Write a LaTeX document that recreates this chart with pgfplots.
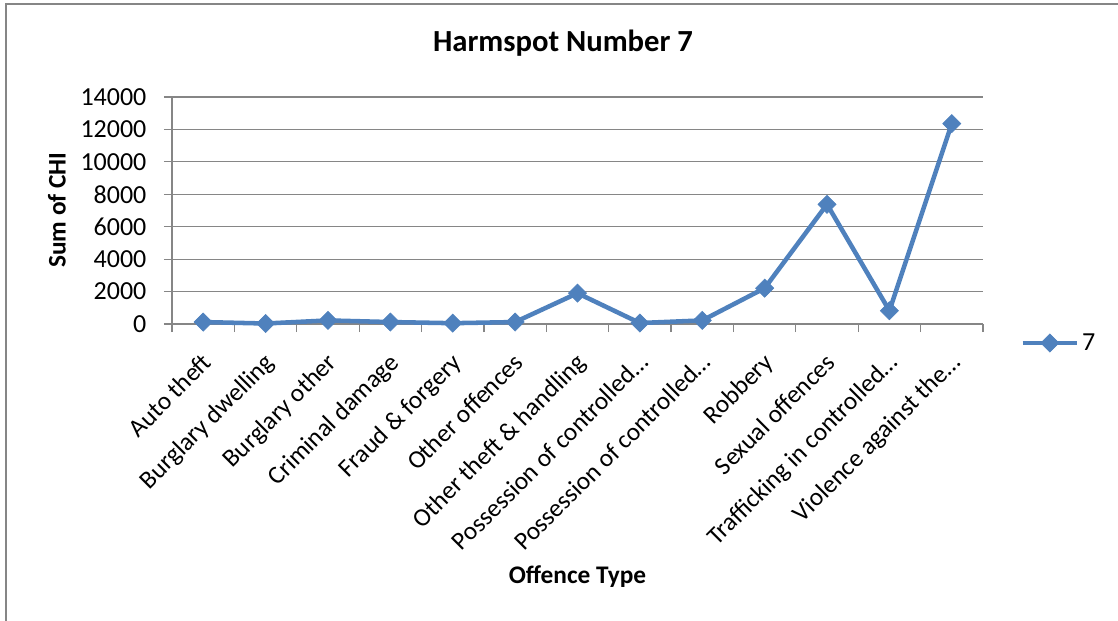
\documentclass[border=0pt]{standalone}
\usepackage{fontspec}
\setmainfont{Carlito}
\usepackage{pgfplots}
\pgfplotsset{compat=1.18}

\definecolor{xlblue}{RGB}{79,129,189}
\definecolor{xlgrid}{RGB}{134,134,134}

\begin{document}
\begin{tikzpicture}[x=1pt,y=1pt]
% page size and the chart area frame (left and top edges only)
\path[use as bounding box] (-129,-222.75) rectangle (709.5,243);
\draw[xlgrid, line width=0.9pt] (-124.5,-222.75) -- (-124.5,240) -- (709.5,240);

\begin{axis}[
  at={(0,0)}, anchor=south west,
  scale only axis,
  width=608.25pt, height=170.25pt,
  xmin=-0.5, xmax=12.5,
  ymin=0, ymax=14000,
  axis lines=left,
  axis line style={-, xlgrid, line width=0.9pt},
  ytick={0,2000,...,14000},
  ymajorgrids,
  grid style={xlgrid, line width=0.9pt},
  tick align=outside,
  major tick length=6pt,
  tick style={xlgrid, line width=0.9pt},
  y tick label style={font=\fontsize{19.5}{22}\selectfont, inner sep=0pt, xshift=-13pt},
  /pgf/number format/assume math mode=true,
  scaled y ticks=false,
  yticklabel={\pgfmathprintnumber[fixed,1000 sep={}]{\tick}},
  xtick={-0.5,0.5,...,12.5},
  xticklabels={},
  extra x ticks={0,1,...,12},
  extra x tick style={major tick length=0pt},
  extra x tick labels={Auto theft,Burglary dwelling,Burglary other,Criminal damage,Fraud \& forgery,Other offences,Other theft \& handling,Possession of controlled…,Possession of controlled…,Robbery,Sexual offences,Trafficking in controlled…,Violence against the…},
  x tick label style={font=\fontsize{19}{23}\selectfont, anchor=north east, inner sep=0pt, xshift=-2pt, yshift=-20.5pt, rotate=45},
  legend style={draw=none, fill=none, at={(1.0456,-0.0837)}, anchor=west, inner sep=0pt,
    font=\fontsize{19.5}{22}\selectfont},
  legend image code/.code={
    \draw[mark repeat=2, mark phase=2, #1] plot coordinates {(0pt,0pt) (20.5pt,0pt) (41pt,0pt)};
  },
  clip=false,
]
\addplot[color=xlblue, line width=3.4pt, mark=square*,
  mark options={rotate=45, line width=0.5pt, fill=xlblue, scale=1}, mark size=4.8pt]
  coordinates {
  (0,120) (1,30) (2,220) (3,120) (4,50) (5,120) (6,1900)
  (7,60) (8,220) (9,2210) (10,7380) (11,820) (12,12360)
};
\legend{7}
\end{axis}

\node[font=\bfseries\fontsize{23}{27}\selectfont, anchor=base] at (293.25,204) {Harmspot Number 7};
\node[font=\bfseries\fontsize{19}{22}\selectfont, anchor=base] at (304.1,-194.25) {Offence Type};
\node[font=\bfseries\fontsize{19}{22}\selectfont, rotate=90] at (-86.25,85.5) {Sum of CHI};
\end{tikzpicture}
\end{document}
